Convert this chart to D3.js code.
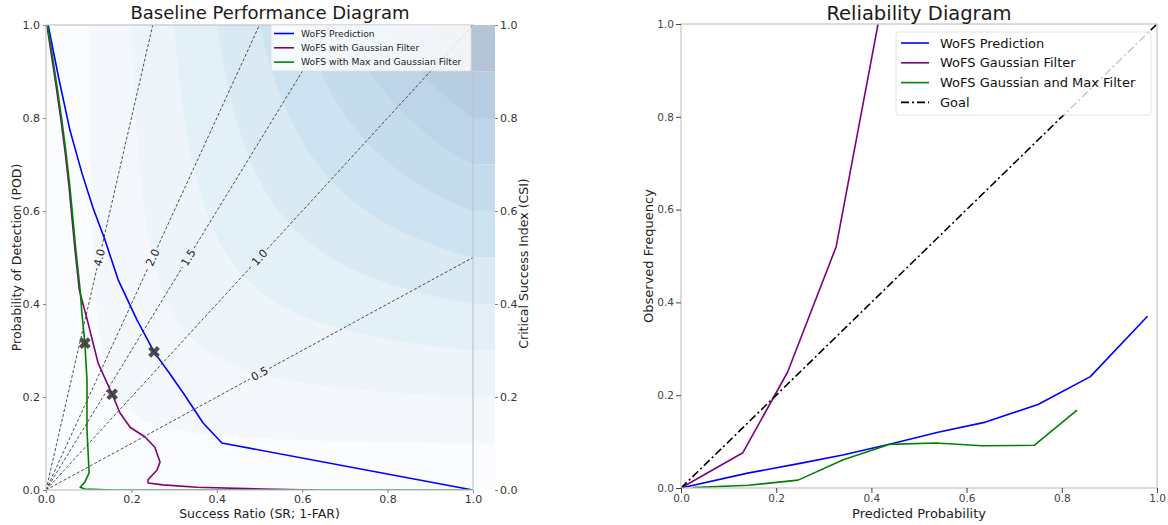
<!DOCTYPE html>
<html>
<head>
<meta charset="utf-8">
<script src="https://cdn.jsdelivr.net/npm/d3@7"></script>
<style>
  body { margin: 0; background: #fff; }
  text { font-family: "DejaVu Sans", sans-serif; }
</style>
</head>
<body>
<div id="chart"></div>
<script>
// ---- data ----
const tickValues = [0, 0.2, 0.4, 0.6, 0.8, 1.0];
const csiLevels = [0, 0.1, 0.2, 0.3, 0.4, 0.5, 0.6, 0.7, 0.8, 0.9, 1.0];
const biasValues = [0.5, 1.0, 1.5, 2.0, 4.0];

const perfNames = ["WoFS Prediction", "WoFS with Gaussian Filter", "WoFS with Max and Gaussian Filter"];
const perfColors = ["#0000ff", "#800080", "#008000"];

const predSR  = [0.005, 0.030, 0.056, 0.084, 0.110, 0.138, 0.169, 0.213, 0.253, 0.290, 0.321, 0.368, 0.412, 1.0];
const predPOD = [1.000, 0.885, 0.774, 0.682, 0.607, 0.538, 0.452, 0.366, 0.297, 0.250, 0.209, 0.144, 0.101, 0.0];

const gaussSR  = [0.002, 0.012, 0.024, 0.035, 0.045, 0.054, 0.068, 0.078, 0.098, 0.122, 0.155, 0.173, 0.197, 0.232, 0.255, 0.267, 0.260, 0.239, 0.239, 0.274, 0.354, 0.508, 0.630];
const gaussPOD = [1.000, 0.940, 0.867, 0.796, 0.725, 0.652, 0.516, 0.430, 0.361, 0.273, 0.206, 0.166, 0.135, 0.114, 0.092, 0.060, 0.043, 0.022, 0.015, 0.011, 0.006, 0.002, 0.000];

const maxSR  = [0.003, 0.014, 0.026, 0.037, 0.047, 0.056, 0.070, 0.080, 0.084, 0.091, 0.096, 0.096, 0.101, 0.091, 0.080, 0.091, 0.157, 1.0];
const maxPOD = [1.000, 0.940, 0.867, 0.796, 0.725, 0.652, 0.516, 0.430, 0.381, 0.316, 0.237, 0.129, 0.037, 0.017, 0.006, 0.002, 0.000, 0.0];

const markSR  = [0.253, 0.155, 0.091];
const markPOD = [0.297, 0.206, 0.316];

const relNames = ["WoFS Prediction", "WoFS Gaussian Filter", "WoFS Gaussian and Max Filter", "Goal"];
const relColors = ["#0000ff", "#800080", "#008000", "#000000"];

const relPredX = [0.0, 0.14, 0.25, 0.34, 0.44, 0.54, 0.64, 0.75, 0.86, 0.98];
const relPredY = [0.0, 0.032, 0.053, 0.071, 0.095, 0.120, 0.142, 0.180, 0.240, 0.370];

const relGaussX = [0.0, 0.13, 0.224, 0.326, 0.414];
const relGaussY = [0.0, 0.076, 0.250, 0.520, 1.000];

const relMaxX = [0.025, 0.143, 0.246, 0.341, 0.437, 0.536, 0.632, 0.742, 0.832];
const relMaxY = [0.001, 0.006, 0.017, 0.061, 0.094, 0.097, 0.091, 0.092, 0.168];

const goalX = [0, 1];
const goalY = [0, 1];

// ---- page ----
const W = 1168, H = 525;
const svg = d3.select("#chart").append("svg")
    .attr("width", W).attr("height", H);

const fmt = d3.format(".1f");
const spineColor = "#c4c4c4";
const tickColor = "#333";

function zip(xs, ys) { return xs.map((x, i) => [x, ys[i]]); }

// ================= performance diagram =================
const pL = 46, pR = 473, pT = 25, pB = 490;
const cbR = 495;
const xP = d3.scaleLinear().domain([0, 1]).range([pL, pR]);
const yP = d3.scaleLinear().domain([0, 1]).range([pB, pT]);

function bandColor(k) {
    const c = d3.rgb(d3.interpolateBlues((k + 0.5) / 10));
    const a = 0.3;
    return d3.rgb(255 * (1 - a) + c.r * a, 255 * (1 - a) + c.g * a, 255 * (1 - a) + c.b * a).formatHex();
}

svg.append("clipPath").attr("id", "clipP")
    .append("rect").attr("x", pL).attr("y", pT).attr("width", pR - pL).attr("height", pB - pT);

const perf = svg.append("g");
const bg = perf.append("g").attr("clip-path", "url(#clipP)");

// CSI contours
const n = 300;
const grid = new Array(n * n);
for (let j = 0; j < n; j++) {
    for (let i = 0; i < n; i++) {
        const sr = (i + 0.5) / n, pod = (j + 0.5) / n;
        grid[i + j * n] = 1 / (1 / sr + 1 / pod - 1);
    }
}
const contours = d3.contours().size([n, n]).thresholds(csiLevels.slice(1, -1))(grid);
const proj = d3.geoTransform({
    point: function (x, y) { this.stream.point(xP(x / n), yP(y / n)); }
});
const gpath = d3.geoPath(proj);

bg.append("rect").attr("x", pL).attr("y", pT).attr("width", pR - pL).attr("height", pB - pT)
    .attr("fill", bandColor(0));
bg.selectAll("path.band").data(contours).join("path")
    .attr("class", "band")
    .attr("d", gpath)
    .attr("fill", (d, i) => bandColor(i + 1));

// colorbar
perf.append("g").selectAll("rect").data(csiLevels.slice(0, -1)).join("rect")
    .attr("x", pR).attr("width", cbR - pR)
    .attr("y", (d, i) => yP(csiLevels[i + 1]))
    .attr("height", (d, i) => yP(csiLevels[i]) - yP(csiLevels[i + 1]))
    .attr("fill", (d, i) => bandColor(i));

// frequency bias lines with inline labels
const biasG = perf.append("g").attr("clip-path", "url(#clipP)");
const biasLab = perf.append("g");
biasValues.forEach(b => {
    const endSR = Math.min(1, 1 / b), endPOD = Math.min(1, b);
    const labSR = b >= 1 ? 0.5 / b : 0.5;
    const labPOD = labSR * b;
    const x0 = xP(0), y0 = yP(0), x1 = xP(endSR), y1 = yP(endPOD);
    const lx = xP(labSR), ly = yP(labPOD);
    const len = Math.hypot(x1 - x0, y1 - y0);
    const ux = (x1 - x0) / len, uy = (y1 - y0) / len;
    const gap = 11;
    const segs = [[[x0, y0], [lx - ux * gap, ly - uy * gap]], [[lx + ux * gap, ly + uy * gap], [x1, y1]]];
    segs.forEach(s => {
        biasG.append("line")
            .attr("x1", s[0][0]).attr("y1", s[0][1]).attr("x2", s[1][0]).attr("y2", s[1][1])
            .attr("stroke", "#222").attr("stroke-width", 0.8)
            .attr("stroke-dasharray", "3,2");
    });
    const ang = Math.atan2(y1 - y0, x1 - x0) * 180 / Math.PI;
    biasLab.append("text")
        .attr("transform", `translate(${lx},${ly}) rotate(${ang})`)
        .attr("text-anchor", "middle").attr("dy", "0.35em")
        .attr("font-size", 11).attr("fill", "#222")
        .text(fmt(b));
});

// curves
const lineP = d3.line().x(d => xP(d[0])).y(d => yP(d[1]));
const perfData = [zip(predSR, predPOD), zip(gaussSR, gaussPOD), zip(maxSR, maxPOD)];
const curveG = perf.append("g").attr("clip-path", "url(#clipP)");
curveG.selectAll("path").data(perfData).join("path")
    .attr("d", lineP)
    .attr("fill", "none")
    .attr("stroke", (d, i) => perfColors[i])
    .attr("stroke-width", 1.6)
    .attr("stroke-linejoin", "round");

// markers
perf.append("g").selectAll("path").data(zip(markSR, markPOD)).join("path")
    .attr("d", d3.symbol().type(d3.symbolCross).size(85))
    .attr("transform", d => `translate(${xP(d[0])},${yP(d[1])}) rotate(45)`)
    .attr("fill", "#3a3a3a").attr("fill-opacity", 0.9);

// spines
perf.append("rect").attr("x", pL).attr("y", pT).attr("width", pR - pL).attr("height", pB - pT)
    .attr("fill", "none").attr("stroke", spineColor).attr("stroke-width", 1.2);

// axes
function styleAxis(g) {
    g.select(".domain").remove();
    g.selectAll(".tick line").attr("stroke", "#888");
    g.selectAll(".tick text").attr("fill", tickColor).attr("font-size", 11)
        .attr("font-family", "DejaVu Sans, sans-serif");
}
perf.append("g").attr("transform", `translate(0,${pB})`)
    .call(d3.axisBottom(xP).tickValues(tickValues).tickFormat(fmt).tickSize(3).tickPadding(2))
    .call(styleAxis);
perf.append("g").attr("transform", `translate(${pL},0)`)
    .call(d3.axisLeft(yP).tickValues(tickValues).tickFormat(fmt).tickSize(3).tickPadding(3))
    .call(styleAxis);
perf.append("g").attr("transform", `translate(${cbR},0)`)
    .call(d3.axisRight(yP).tickValues(tickValues).tickFormat(fmt).tickSize(3).tickPadding(2))
    .call(styleAxis);

perf.append("text").attr("x", 270).attr("y", 19).attr("text-anchor", "middle")
    .attr("font-size", 18).attr("fill", "#1a1a1a").text("Baseline Performance Diagram");
perf.append("text").attr("x", (pL + pR) / 2).attr("y", 518).attr("text-anchor", "middle")
    .attr("font-size", 12.5).attr("fill", "#222").text("Success Ratio (SR; 1-FAR)");
perf.append("text").attr("transform", `translate(21,${(pT + pB) / 2}) rotate(-90)`)
    .attr("text-anchor", "middle").attr("font-size", 12.5).attr("fill", "#222")
    .text("Probability of Detection (POD)");
perf.append("text").attr("transform", `translate(528,${(pT + pB) / 2 + 6}) rotate(-90)`)
    .attr("text-anchor", "middle").attr("font-size", 12.5).attr("fill", "#222")
    .text("Critical Success Index (CSI)");

// legend
const lg1 = perf.append("g").attr("transform", "translate(271,25)");
lg1.append("rect").attr("width", 200).attr("height", 46).attr("rx", 2)
    .attr("fill", "#fff").attr("fill-opacity", 0.8).attr("stroke", "#ddd").attr("stroke-width", 0.8);
perfNames.forEach((name, i) => {
    const y = 8.5 + i * 14.3;
    lg1.append("line").attr("x1", 3).attr("x2", 23).attr("y1", y).attr("y2", y)
        .attr("stroke", perfColors[i]).attr("stroke-width", 1.6);
    lg1.append("text").attr("x", 30).attr("y", y).attr("dy", "0.35em")
        .attr("font-size", 9.2).attr("fill", "#222").text(name);
});

// ================= reliability diagram =================
const rL = 681, rR = 1157, rT = 24, rB = 488;
const xR = d3.scaleLinear().domain([0, 1]).range([rL, rR]);
const yR = d3.scaleLinear().domain([0, 1]).range([rB, rT]);

svg.append("clipPath").attr("id", "clipR")
    .append("rect").attr("x", rL).attr("y", rT).attr("width", rR - rL).attr("height", rB - rT);

const rel = svg.append("g");
const lineR = d3.line().x(d => xR(d[0])).y(d => yR(d[1]));
const relData = [zip(relPredX, relPredY), zip(relGaussX, relGaussY), zip(relMaxX, relMaxY), zip(goalX, goalY)];
const relG = rel.append("g").attr("clip-path", "url(#clipR)");
relG.selectAll("path").data(relData).join("path")
    .attr("d", lineR)
    .attr("fill", "none")
    .attr("stroke", (d, i) => relColors[i])
    .attr("stroke-width", 1.6)
    .attr("stroke-dasharray", (d, i) => i === 3 ? "8,3,2,3" : null)
    .attr("stroke-linejoin", "round");

rel.append("rect").attr("x", rL).attr("y", rT).attr("width", rR - rL).attr("height", rB - rT)
    .attr("fill", "none").attr("stroke", spineColor).attr("stroke-width", 1.2);

function styleAxisR(g) {
    g.select(".domain").remove();
    g.selectAll(".tick line").attr("stroke", "#444");
    g.selectAll(".tick text").attr("fill", "#444").attr("font-size", 10.5)
        .attr("font-family", "DejaVu Sans, sans-serif");
}
rel.append("g").attr("transform", `translate(0,${rB})`)
    .call(d3.axisBottom(xR).tickValues(tickValues).tickFormat(fmt).tickSize(5).tickPadding(2))
    .call(styleAxisR);
rel.append("g").attr("transform", `translate(${rL},0)`)
    .call(d3.axisLeft(yR).tickValues(tickValues).tickFormat(fmt).tickSize(5).tickPadding(2))
    .call(styleAxisR);

rel.append("text").attr("x", (rL + rR) / 2).attr("y", 20).attr("text-anchor", "middle")
    .attr("font-size", 19.5).attr("fill", "#1a1a1a").text("Reliability Diagram");
rel.append("text").attr("x", (rL + rR) / 2).attr("y", 518).attr("text-anchor", "middle")
    .attr("font-size", 13).attr("fill", "#222").text("Predicted Probability");
rel.append("text").attr("transform", `translate(653,${(rT + rB) / 2}) rotate(-90)`)
    .attr("text-anchor", "middle").attr("font-size", 13).attr("fill", "#222")
    .text("Observed Frequency");

const lg2 = rel.append("g").attr("transform", "translate(896,32)");
lg2.append("rect").attr("width", 255).attr("height", 83).attr("rx", 3)
    .attr("fill", "#fff").attr("fill-opacity", 0.8).attr("stroke", "#ddd").attr("stroke-width", 0.8);
relNames.forEach((name, i) => {
    const y = 11 + i * 19.8;
    lg2.append("line").attr("x1", 5).attr("x2", 33).attr("y1", y).attr("y2", y)
        .attr("stroke", relColors[i]).attr("stroke-width", 1.6)
        .attr("stroke-dasharray", i === 3 ? "8,3,2,3" : null);
    lg2.append("text").attr("x", 44).attr("y", y).attr("dy", "0.35em")
        .attr("font-size", 13).attr("fill", "#111").text(name);
});
</script>
</body>
</html>
